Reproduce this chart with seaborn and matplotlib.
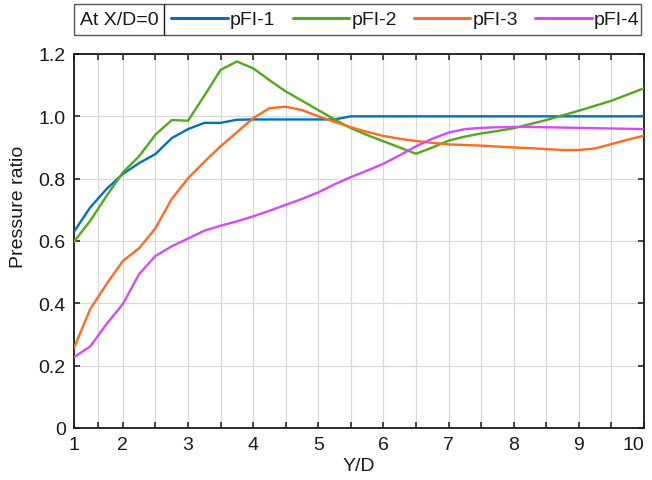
import numpy as np
import pandas as pd
import matplotlib
matplotlib.use("Agg")
import matplotlib.pyplot as plt
import seaborn as sns
from matplotlib.lines import Line2D
from matplotlib.patches import Rectangle

# ---- data ----
yd = [1.0, 1.333, 1.667, 2.0, 2.25, 2.5, 2.75, 3.0, 3.25, 3.5, 3.75,
      4.0, 4.25, 4.5, 4.75, 5.0, 5.25, 5.5, 5.75, 6.0, 6.25, 6.5, 6.75,
      7.0, 7.25, 7.5, 7.75, 8.0, 8.25, 8.5, 8.75, 9.0, 9.25, 9.5, 9.75, 10.0]

pfi1 = [0.630, 0.708, 0.767, 0.815, 0.850, 0.879, 0.930, 0.959, 0.979, 0.979, 0.989,
        0.990, 0.990, 0.990, 0.990, 0.990, 0.990, 1.0, 1.0, 1.0, 1.0, 1.0, 1.0,
        1.0, 1.0, 1.0, 1.0, 1.0, 1.0, 1.0, 1.0, 1.0, 1.0, 1.0, 1.0, 1.0]
pfi2 = [0.598, 0.665, 0.745, 0.820, 0.872, 0.941, 0.988, 0.986, 1.066, 1.149, 1.176,
        1.154, 1.116, 1.080, 1.050, 1.020, 0.990, 0.962, 0.940, 0.920, 0.900, 0.880, 0.900,
        0.922, 0.935, 0.945, 0.953, 0.962, 0.975, 0.988, 1.003, 1.018, 1.034, 1.050, 1.070, 1.090]
pfi3 = [0.257, 0.382, 0.462, 0.536, 0.577, 0.641, 0.735, 0.801, 0.854, 0.904, 0.949,
        0.994, 1.026, 1.031, 1.020, 1.000, 0.982, 0.965, 0.950, 0.937, 0.928, 0.921, 0.915,
        0.910, 0.908, 0.906, 0.903, 0.900, 0.898, 0.895, 0.892, 0.892, 0.897, 0.911, 0.925, 0.938]
pfi4 = [0.227, 0.262, 0.334, 0.398, 0.494, 0.552, 0.583, 0.608, 0.633, 0.649, 0.663,
        0.679, 0.697, 0.716, 0.735, 0.756, 0.782, 0.805, 0.826, 0.848, 0.875, 0.904, 0.928,
        0.948, 0.959, 0.963, 0.965, 0.966, 0.966, 0.965, 0.964, 0.963, 0.962, 0.961, 0.960, 0.959]

series_names = ["pFI-1", "pFI-2", "pFI-3", "pFI-4"]
colors = ["#0072BD", "#53A81B", "#FF6B22", "#D44BFA"]
x_ticks = [1, 1.5, 2, 2.5, 3, 3.5, 4, 4.5, 5, 5.5, 6, 6.5, 7, 7.5, 8, 8.5, 9, 9.5, 10]
y_ticks = [0, 0.2, 0.4, 0.6, 0.8, 1.0, 1.2]
y_tick_labels = ["0", "0.2", "0.4", "0.6", "0.8", "1.0", "1.2"]
legend_title = "At X/D=0"

df = pd.concat([pd.DataFrame({"Y/D": yd, "ratio": v, "series": n})
                for n, v in zip(series_names, [pfi1, pfi2, pfi3, pfi4])])

sns.set_theme(style="ticks")
plt.rcParams["font.family"] = ["Liberation Sans", "DejaVu Sans"]
FS = 14
plt.rcParams["font.size"] = FS

W, H = 652, 481
fig = plt.figure(figsize=(W / 100, H / 100), dpi=100)
ax = fig.add_axes([74 / W, 1 - 429 / H, 570 / W, 374 / H])

# piecewise scale: segment 1..2 compressed
def fwd(x):
    x = np.asarray(x, dtype=float)
    return np.where(x < 2, 2 - (2 - x) * 0.75, x)

def inv(y):
    y = np.asarray(y, dtype=float)
    return np.where(y < 2, 2 - (2 - y) / 0.75, y)

ax.set_xscale("function", functions=(fwd, inv))

sns.lineplot(data=df, x="Y/D", y="ratio", hue="series", palette=colors,
             linewidth=1.7, legend=False, ax=ax, sort=False, zorder=3)

ax.set_xlim(1, 10)
ax.set_ylim(0, 1.2)
ax.set_xticks(x_ticks)
ax.set_xticklabels([str(int(t)) if float(t).is_integer() else "" for t in x_ticks])
ax.set_yticks(y_ticks)
ax.set_yticklabels(y_tick_labels)
ax.xaxis.set_minor_locator(matplotlib.ticker.NullLocator())

ax.grid(True, color="#d9d9d9", linewidth=0.9, zorder=0)
ax.set_axisbelow(True)
for s in ax.spines.values():
    s.set_visible(True)
    s.set_color("#1a1a1a")
    s.set_linewidth(1.3)
ax.tick_params(direction="in", length=4, width=1.1, color="#1a1a1a",
               top=True, right=True, labelsize=FS, labelcolor="#1a1a1a", pad=6)
ax.get_xticklabels()[-1].set_horizontalalignment("right")
ax.get_xticklabels()[-1].set_x(10)

ax.set_xlabel("Y/D", fontsize=FS, color="#1a1a1a")
ax.set_ylabel("Pressure ratio", fontsize=FS, color="#1a1a1a")
ax.xaxis.set_label_coords(0.5, -(467 - 429) / 374)
ax.yaxis.set_label_coords((19 - 74) / 570, (429 - 207) / 374)
ax.xaxis.label.set_va("center")
ax.yaxis.label.set_va("center")

# legend box (outer frame + divider)
box_l, box_r, box_t, box_b, div = 74, 641, 5, 36, 164
fig.patches.append(Rectangle((box_l / W, 1 - box_b / H), (box_r - box_l) / W,
                             (box_b - box_t) / H, transform=fig.transFigure,
                             fill=False, edgecolor="#555555", linewidth=1.0))
fig.add_artist(Line2D([div / W, div / W], [1 - box_b / H, 1 - box_t / H],
                      transform=fig.transFigure, color="#1a1a1a", linewidth=1.0))
fig.text((box_l + div) / 2 / W, 1 - 20.5 / H, legend_title, ha="center", va="center",
         fontsize=FS, color="#1a1a1a")

handles = [Line2D([0], [0], color=c, lw=2.2) for c in colors]
leg = fig.legend(handles, series_names, ncol=4, loc="center left",
                 bbox_to_anchor=((div + 1) / W, 1 - 20.5 / H),
                 frameon=False, handlelength=2.9, handletextpad=0.12,
                 columnspacing=0.88, borderpad=0.0, borderaxespad=0.33,
                 fontsize=FS)
for t in leg.get_texts():
    t.set_color("#1a1a1a")

fig.savefig("out.png", dpi=100)
